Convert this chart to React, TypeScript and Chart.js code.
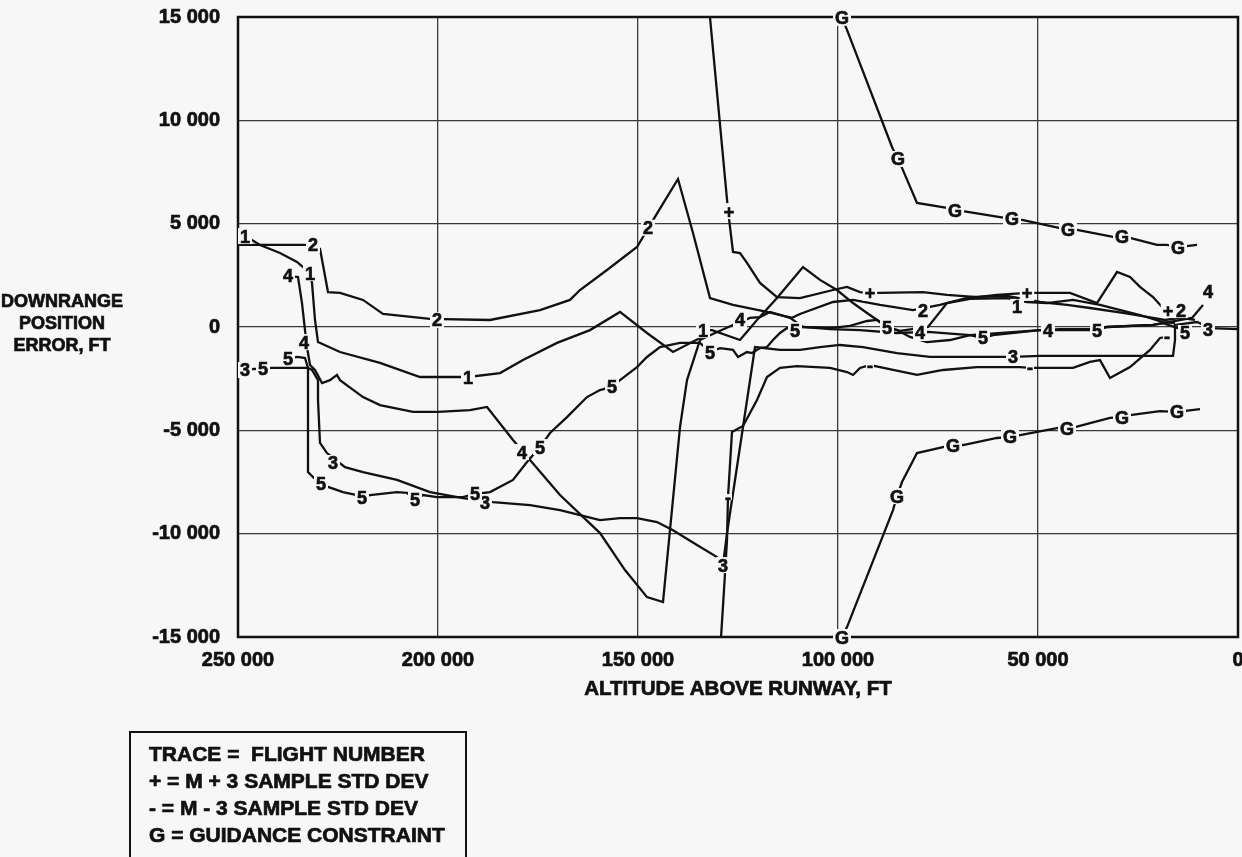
import React, { useEffect, useRef } from 'react';
import { Chart, registerables } from 'chart.js';

Chart.register(...registerables);

type P = [number, number];

const BG = '#f7f7f7';
const INK = '#111111';
const GRID = '#3a3a3a';
const FAMILY = '"Liberation Sans", Arial, Helvetica, sans-serif';

const xTickLabels = ['0', '50 000', '100 000', '150 000', '200 000', '250 000'];
const yTickLabels = ['-15 000', '-10 000', '-5 000', '0', '5 000', '10 000', '15 000'];

const xTitle = 'ALTITUDE ABOVE RUNWAY, FT';
const yTitleLines = ['DOWNRANGE', 'POSITION', 'ERROR, FT'];
const legendLines = [
  'TRACE =  FLIGHT NUMBER',
  '+ = M + 3 SAMPLE STD DEV',
  '- = M - 3 SAMPLE STD DEV',
  'G = GUIDANCE CONSTRAINT',
];

// altitude above runway (ft), downrange position error (ft)
const flight1: P[] = [
  [250000, 4400], [246500, 4210], [244500, 3970], [239500, 3580], [235250, 3150], [232000, 2610],
  [231500, 2130], [230750, 340], [230000, -730], [224500, -1210], [214500, -1740], [204500, -2420],
  [192500, -2420], [184500, -2230], [178750, -1600], [170250, -770], [162000, -150], [154500, 730],
  [147750, -290], [141250, -1210], [134500, -530], [133750, -150], [131500, -150], [124500, -630],
  [120250, 340], [115250, 1400], [108750, 2900], [104500, 2280], [100250, 1790], [96250, 1160],
  [92750, 680], [89500, 240], [87750, 0], [84500, -190], [77500, 0], [72750, 1160], [67000, 1360],
  [57750, 1400], [52750, 1210], [47750, 1160], [41250, 1310], [34500, 1070], [24500, 580],
  [18750, 240], [15750, 190],
];
const flight1Marks: P[] = [[248250, 4400], [232000, 2610], [192500, -2420], [133750, -150], [55250, 970]];

const flight2: P[] = [
  [250000, 3970], [231500, 3970], [229500, 3780], [227500, 1690], [224500, 1650], [218750, 1310],
  [213750, 630], [202000, 390], [187000, 340], [174500, 820], [167000, 1310], [164500, 1790],
  [157750, 2760], [150250, 3870], [145000, 5570], [140000, 7160], [136250, 4550], [132000, 1400],
  [126250, 1070], [117750, 730], [111500, 440], [109500, 630], [101250, 1210], [96250, 1310],
  [89500, 1070], [81250, 820], [74500, 1070], [67000, 1450], [57750, 1500], [49500, 1210],
  [42750, 1070], [37000, 920], [28750, 680], [21250, 440], [18250, 340], [14500, 440], [10750, 340],
];
const flight2Marks: P[] = [[231250, 3970], [200250, 340], [147500, 4800], [78750, 820], [14250, 820]];

const flight3: P[] = [
  [250000, -2080], [241500, -1980], [232500, -1980], [231500, -2080], [230000, -2570], [230000, -3530],
  [229500, -5610], [227750, -6100], [223250, -6780], [218750, -7020], [210250, -7400], [202000, -7990],
  [193750, -8280], [186250, -8470], [177000, -8620], [169500, -8860], [159500, -9340], [154500, -9250],
  [150250, -9250], [145250, -9440], [141250, -9830], [135250, -10550], [130250, -11130], [128750, -11520],
  [127750, -9970], [126500, -8370], [123750, -4840], [120750, -970], [114500, -1110], [109500, -1110],
  [104500, -970], [99500, -870], [93750, -970], [85250, -1260], [77000, -1450], [56250, -1450],
  [49500, -1400], [16250, -1400], [15750, -630], [15750, 100], [10250, 240], [7000, -50], [0, -100],
];
const flight3Marks: P[] = [[248250, -2080], [226250, -6580], [188250, -8470], [128750, -11520], [56250, -1450], [7500, -145]];

const flight4: P[] = [
  [237500, 2470], [235000, 2420], [234000, 1160], [233250, -150], [232500, -1260], [232000, -1840],
  [230750, -2080], [229000, -2710], [227000, -2570], [225250, -2320], [224500, -2570], [218750, -3390],
  [214500, -3780], [206250, -4110], [200000, -4110], [192000, -4020], [187750, -3870], [181250, -5470],
  [177000, -6440], [169500, -8130], [159500, -9970], [153250, -11760], [147750, -13070], [143750, -13310],
  [139500, -4840], [137750, -2570], [134500, -630], [130750, -290], [126250, 100], [122000, 440],
  [119500, 480], [117000, 730], [112000, 440], [108750, 0], [102000, -100], [94500, -150],
  [85250, -290], [77500, -240], [67000, -390], [49500, -150], [44500, -100], [37000, -100],
  [32750, 0], [21250, 100], [18750, 190], [11500, 440], [8750, 1070],
];
const flight4Marks: P[] = [[237500, 2470], [233500, -730], [179000, -6050], [124500, 340], [79500, -290], [47500, -190], [7500, 1740]];

const flight5: P[] = [
  [237500, -1500], [235000, -1450], [233250, -1500], [232500, -1980], [232500, -3530], [232500, -7020],
  [231250, -7260], [229250, -7550], [227500, -7740], [223750, -7990], [220250, -8130], [219000, -8230],
  [217000, -8130], [210250, -7990], [207750, -8030], [205750, -8370], [203750, -8130], [200250, -8230],
  [193750, -8230], [190750, -8080], [187000, -7990], [181250, -7400], [177750, -6530], [174500, -5810],
  [172000, -5130], [167750, -4360], [162750, -3390], [159500, -3050], [156500, -2900], [154500, -2570],
  [150250, -1940], [147750, -1450], [144500, -970], [139500, -770], [134500, -770], [132000, -1210],
  [129500, -1020], [126250, -1110], [125000, -1450], [122750, -1210], [121500, -1260], [119500, -1020],
  [117750, -970], [116250, -630], [114500, -290], [112750, -50], [110750, -150], [108750, 0],
  [102000, -50], [97000, 50], [92750, 290], [90250, 340], [87750, 0], [85250, -150], [82000, -480],
  [77750, -730], [72000, -630], [67000, -390], [63750, -530], [61250, -390], [49500, -150],
  [44500, -150], [35250, -150], [32750, 0], [21250, 100], [18750, 190], [15000, -50], [13250, -290],
];
const flight5Marks: P[] = [
  [243750, -2030], [237500, -1500], [229250, -7550], [219000, -8230], [205750, -8370], [190750, -8080],
  [174500, -5810], [156500, -2900], [132000, -1210], [110750, -150], [87750, 0], [63750, -530],
  [35250, -150], [13250, -290],
];

const plusSigma: P[] = [
  [132250, 15500], [127500, 5660], [126250, 3630], [124500, 3580], [122750, 3100], [119500, 2130],
  [115250, 1450], [109500, 1400], [101250, 1790], [97750, 1940], [94500, 1690], [92000, 1650],
  [89500, 1650], [78750, 1690], [72750, 1550], [65250, 1450], [60250, 1550], [52750, 1650],
  [42000, 1650], [35250, 1160], [30250, 2660], [27000, 2420], [24500, 1940], [21250, 1450],
  [18750, 920], [17500, 820],
];
const plusMarks: P[] = [[127250, 5610], [92000, 1650], [52750, 1650], [17500, 820]];

const minusSigma: P[] = [
  [129400, -15500], [128500, -12730], [127750, -10310], [127500, -8230], [126500, -5080], [123750, -4790],
  [120250, -3530], [117750, -2420], [114500, -1980], [110250, -1890], [102000, -1980], [97750, -2180],
  [96250, -2320], [94500, -1980], [92000, -1840], [89500, -1940], [80250, -2320], [73750, -2080],
  [65250, -1940], [54500, -1940], [52000, -1980], [41250, -1980], [37000, -1690], [34500, -1600],
  [32000, -2470], [27000, -1940], [22000, -1110], [19500, -530], [17750, -480],
];
const minusMarks: P[] = [[127500, -8230], [92000, -1840], [52000, -1980], [17750, -480]];

const guidanceUpper: P[] = [
  [99000, 14960], [97750, 14380], [86500, 8710], [85000, 8130], [84000, 7700], [80250, 6000],
  [72750, 5760], [70750, 5660], [68750, 5610], [59500, 5320], [56500, 5230], [54000, 5180],
  [44500, 4790], [42500, 4740], [40250, 4700], [31250, 4360], [29000, 4360], [27000, 4310],
  [20250, 3970], [17750, 3970], [15000, 3870], [10250, 3970],
];
const guidanceUpperMarks: P[] = [[99000, 14960], [85000, 8130], [70750, 5660], [56500, 5230], [42500, 4740], [29000, 4360], [15000, 3870]];

const guidanceLower: P[] = [
  [99000, -15000], [97750, -14520], [86250, -8860], [85250, -8180], [84000, -7500], [80250, -6100],
  [73750, -5810], [71250, -5710], [68750, -5710], [60250, -5370], [57000, -5320], [54500, -5230],
  [45250, -4890], [42750, -4890], [40750, -4840], [32000, -4400], [29000, -4360], [27000, -4260],
  [19500, -4070], [15250, -4110], [9500, -3970],
];
const guidanceLowerMarks: P[] = [[99000, -15000], [85250, -8180], [71250, -5710], [57000, -5320], [42750, -4890], [29000, -4360], [15250, -4110]];

const traces: { line: P[]; marks: P[]; symbol: string }[] = [
  { line: flight1, marks: flight1Marks, symbol: '1' },
  { line: flight2, marks: flight2Marks, symbol: '2' },
  { line: flight3, marks: flight3Marks, symbol: '3' },
  { line: flight4, marks: flight4Marks, symbol: '4' },
  { line: flight5, marks: flight5Marks, symbol: '5' },
  { line: plusSigma, marks: plusMarks, symbol: '+' },
  { line: minusSigma, marks: minusMarks, symbol: '-' },
  { line: guidanceUpper, marks: guidanceUpperMarks, symbol: 'G' },
  { line: guidanceLower, marks: guidanceLowerMarks, symbol: 'G' },
];

const toXY = (arr: P[]) => arr.map(([x, y]) => ({ x, y }));

const bgPlugin = {
  id: 'bg',
  beforeDraw(chart: any) {
    const ctx = chart.ctx;
    ctx.save();
    ctx.fillStyle = BG;
    ctx.fillRect(0, 0, chart.width, chart.height);
    ctx.restore();
  },
};

const framePlugin = {
  id: 'frame',
  beforeDatasetsDraw(chart: any) {
    const { ctx, chartArea: a } = chart;
    ctx.save();
    ctx.strokeStyle = INK;
    ctx.lineWidth = 2.5;
    ctx.strokeRect(a.left, a.top, a.right - a.left, a.bottom - a.top);
    ctx.restore();
  },
};

const heavyText = (ctx: CanvasRenderingContext2D, t: string, x: number, y: number) => {
  ctx.fillText(t, x, y);
  ctx.strokeText(t, x, y);
};

const markPlugin = {
  id: 'marks',
  afterDatasetsDraw(chart: any) {
    const ctx = chart.ctx;
    ctx.save();
    ctx.font = `bold 18px ${FAMILY}`;
    ctx.textAlign = 'center';
    ctx.textBaseline = 'alphabetic';
    ctx.strokeStyle = INK;
    ctx.lineWidth = 0.7;
    chart.data.datasets.forEach((ds: any, i: number) => {
      const sym = ds.symbol;
      if (!sym) return;
      const meta = chart.getDatasetMeta(i);
      const w = ctx.measureText(sym).width;
      meta.data.forEach((el: any) => {
        const x = el.x;
        const y = el.y;
        ctx.fillStyle = BG;
        if (sym === '-') ctx.fillRect(x - w / 2 - 1, y - 3, w + 2, 6);
        else ctx.fillRect(x - w / 2 - 2, y - 8, w + 4, 16);
        ctx.fillStyle = INK;
        heavyText(ctx, sym, x, y + 6.5);
      });
    });
    ctx.restore();
  },
};

const textPlugin = {
  id: 'texts',
  afterDraw(chart: any) {
    const { ctx, chartArea: a } = chart;
    ctx.save();
    ctx.fillStyle = INK;
    ctx.strokeStyle = INK;
    ctx.lineWidth = 0.7;
    ctx.textAlign = 'center';
    ctx.textBaseline = 'middle';
    ctx.font = `bold 20.5px ${FAMILY}`;
    heavyText(ctx, xTitle, (a.left + a.right) / 2, 689);
    ctx.font = `bold 18px ${FAMILY}`;
    yTitleLines.forEach((t, i) => heavyText(ctx, t, 62, 302 + i * 22));
    // legend box
    ctx.lineWidth = 2;
    ctx.strokeRect(130, 732, 336, 140);
    ctx.lineWidth = 0.7;
    ctx.textAlign = 'left';
    ctx.font = `bold 21px ${FAMILY}`;
    legendLines.forEach((t, i) => heavyText(ctx, t, 149, 755 + i * 27));
    ctx.restore();
  },
};

export default function App() {
  const ref = useRef<HTMLCanvasElement | null>(null);

  useEffect(() => {
    document.body.style.margin = '0';
    document.body.style.background = BG;
    const canvas = ref.current;
    if (!canvas) return;

    const datasets: any[] = [];
    traces.forEach((t) => {
      datasets.push({
        data: toXY(t.line),
        showLine: true,
        borderColor: INK,
        borderWidth: 2.3,
        pointRadius: 0,
        tension: 0,
        fill: false,
      });
    });
    traces.forEach((t) => {
      datasets.push({
        data: toXY(t.marks),
        showLine: false,
        pointRadius: 0,
        symbol: t.symbol,
        clip: false,
      });
    });

    const tickFont = { family: FAMILY, size: 20, weight: 'bold' as const };

    const chart = new Chart(canvas, {
      type: 'scatter',
      data: { datasets },
      options: {
        animation: false,
        responsive: false,
        events: [],
        layout: { padding: { top: 17, right: 4, left: 0, bottom: 0 } },
        plugins: { legend: { display: false }, tooltip: { enabled: false } },
        scales: {
          x: {
            type: 'linear',
            min: 0,
            max: 250000,
            reverse: true,
            ticks: {
              stepSize: 50000,
              padding: 11,
              color: INK,
              font: tickFont,
              textStrokeColor: INK,
              textStrokeWidth: 0.7,
              maxRotation: 0,
              autoSkip: false,
              callback: (v: any) => xTickLabels[Math.round(Number(v) / 50000)] ?? '',
            },
            grid: { color: GRID, lineWidth: 1.3, drawTicks: false },
            border: { display: false },
            afterFit: (s: any) => {
              s.height = 220;
              s.paddingLeft = 0;
              s.paddingRight = 0;
            },
          },
          y: {
            type: 'linear',
            min: -15000,
            max: 15000,
            ticks: {
              stepSize: 5000,
              padding: 18,
              color: INK,
              font: tickFont,
              textStrokeColor: INK,
              textStrokeWidth: 0.7,
              autoSkip: false,
              callback: (v: any) => yTickLabels[Math.round((Number(v) + 15000) / 5000)] ?? '',
            },
            grid: { color: GRID, lineWidth: 1.3, drawTicks: false },
            border: { display: false },
            afterFit: (s: any) => {
              s.width = 238;
              s.paddingTop = 0;
              s.paddingBottom = 0;
            },
          },
        },
      } as any,
      plugins: [bgPlugin, framePlugin, markPlugin, textPlugin],
    });

    return () => chart.destroy();
  }, []);

  return (
    <div style={{ position: 'absolute', left: 0, top: 0, width: 1242, height: 857, background: BG }}>
      <canvas ref={ref} width={1242} height={857} style={{ display: 'block', width: 1242, height: 857 }} />
    </div>
  );
}
